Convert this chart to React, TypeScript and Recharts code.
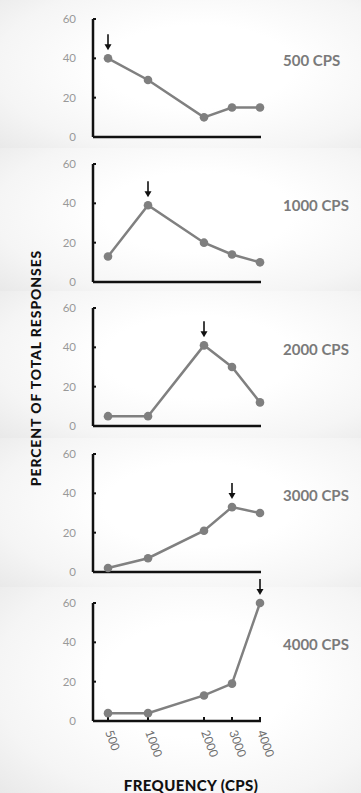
import { LineChart, Line, XAxis, YAxis } from 'recharts';

const freqs = [500, 1000, 2000, 3000, 4000];
// where each frequency sits along the original, unevenly spaced axis
const freqAxisPos = [0, 40, 96, 124, 152];
const toneLabels = ['500 CPS', '1000 CPS', '2000 CPS', '3000 CPS', '4000 CPS'];
const toneFreqs = [500, 1000, 2000, 3000, 4000];

const resp500 = [40, 29, 10, 15, 15];
const resp1000 = [13, 39, 20, 14, 10];
const resp2000 = [5, 5, 41, 30, 12];
const resp3000 = [2, 7, 21, 33, 30];
const resp4000 = [4, 4, 13, 19, 60];
const allResp = [resp500, resp1000, resp2000, resp3000, resp4000];

const yTicks = [0, 20, 40, 60];

const panelTops = [0, 148, 291, 438, 587];
const plotTops = [19, 164, 308, 454, 603];
const MT = 30;

const FONT = 'Lato, "Open Sans", sans-serif';

const Arrow = ({ cx, cy }: { cx: number; cy: number }) => (
  <g>
    <line x1={cx} y1={cy - 24} x2={cx} y2={cy - 12} stroke="#111" strokeWidth={1.6} />
    <path d={`M${cx - 3.5},${cy - 14} L${cx + 3.5},${cy - 14} L${cx},${cy - 8} Z`} fill="#111" />
  </g>
);

const Panel = ({ idx }: { idx: number }) => {
  const values = allResp[idx];
  const data = freqs.map((f, i) => ({ freq: f, pos: freqAxisPos[i], value: values[i] }));
  const peak = freqs.indexOf(toneFreqs[idx]);
  const last = idx === allResp.length - 1;

  return (
    <div style={{ position: 'absolute', left: 0, top: plotTops[idx] - MT }}>
      <LineChart width={361} height={210} data={data} margin={{ top: MT, right: 100, bottom: 0, left: 0 }}>
        <XAxis
          dataKey="pos"
          type="number"
          domain={[-15, 153]}
          ticks={freqAxisPos}
          interval={0}
          height={62}
          stroke="#111"
          axisLine={{ stroke: '#111', strokeWidth: 2.5 }}
          tickLine={{ stroke: '#111', strokeWidth: 2 }}
          tickSize={-4}
          tickMargin={15}
          tick={
            last
              ? (p: any) => {
                  const label = freqs[freqAxisPos.indexOf(p.payload.value)];
                  const x = p.x - 3;
                  const y = p.y;
                  return (
                    <text
                      x={x}
                      y={y}
                      transform={`rotate(70, ${x}, ${y})`}
                      textAnchor="start"
                      fontSize={12}
                      fontFamily={FONT}
                      fill="#6f6f6f"
                    >
                      {label}
                    </text>
                  );
                }
              : false
          }
        />
        <YAxis
          type="number"
          domain={[0, 60]}
          ticks={yTicks}
          interval={0}
          width={93}
          axisLine={{ stroke: '#111', strokeWidth: 2.5 }}
          tickLine={{ stroke: '#111', strokeWidth: 2 }}
          tickSize={-3}
          tickMargin={20}
          tick={{ fontSize: 11.5, fill: '#999', fontFamily: FONT }}
        />
        <Line
          dataKey="value"
          stroke="#808080"
          strokeWidth={2.5}
          isAnimationActive={false}
          dot={(p: any) => (
            <g key={`dot-${p.index}`}>
              <circle cx={p.cx} cy={p.cy} r={4.3} fill="#7f7f7f" />
              {p.index === peak && <Arrow cx={p.cx} cy={p.cy} />}
            </g>
          )}
        />
      </LineChart>
      <div
        style={{
          position: 'absolute',
          left: 283,
          top: MT + 41,
          transform: 'translateY(-50%)',
          fontFamily: FONT,
          fontWeight: 700,
          fontSize: 15,
          color: '#7a7a7a',
          whiteSpace: 'nowrap',
        }}
      >
        {toneLabels[idx]}
      </div>
    </div>
  );
};

export default function App() {
  return (
    <div style={{ position: 'relative', width: 361, height: 793, overflow: 'hidden', background: '#efefef' }}>
      <style>{'body{margin:0}'}</style>
      {panelTops.map((t, i) => {
        const h = (i < panelTops.length - 1 ? panelTops[i + 1] : 793) - t;
        return (
          <div
            key={`bg-${i}`}
            style={{
              position: 'absolute',
              left: 0,
              top: t,
              width: 361,
              height: h,
              background: 'radial-gradient(ellipse 75% 80% at 55% 45%, #ffffff 35%, #f5f5f5 75%, #e9e9e9 100%)',
            }}
          />
        );
      })}
      {allResp.map((_, i) => (
        <Panel key={`p-${i}`} idx={i} />
      ))}
      <svg width={361} height={793} style={{ position: 'absolute', left: 0, top: 0, pointerEvents: 'none' }}>
        <text
          x={35}
          y={368}
          transform="rotate(-90, 35, 368)"
          textAnchor="middle"
          dominantBaseline="central"
          fontFamily={FONT}
          fontWeight={900}
          fontSize={14}
          letterSpacing={0.9}
          fill="#111"
        >
          PERCENT OF TOTAL RESPONSES
        </text>
        <text
          x={191}
          y={785}
          textAnchor="middle"
          dominantBaseline="central"
          fontFamily={FONT}
          fontWeight={900}
          fontSize={15}
          letterSpacing={0.4}
          fill="#111"
        >
          FREQUENCY (CPS)
        </text>
      </svg>
    </div>
  );
}
